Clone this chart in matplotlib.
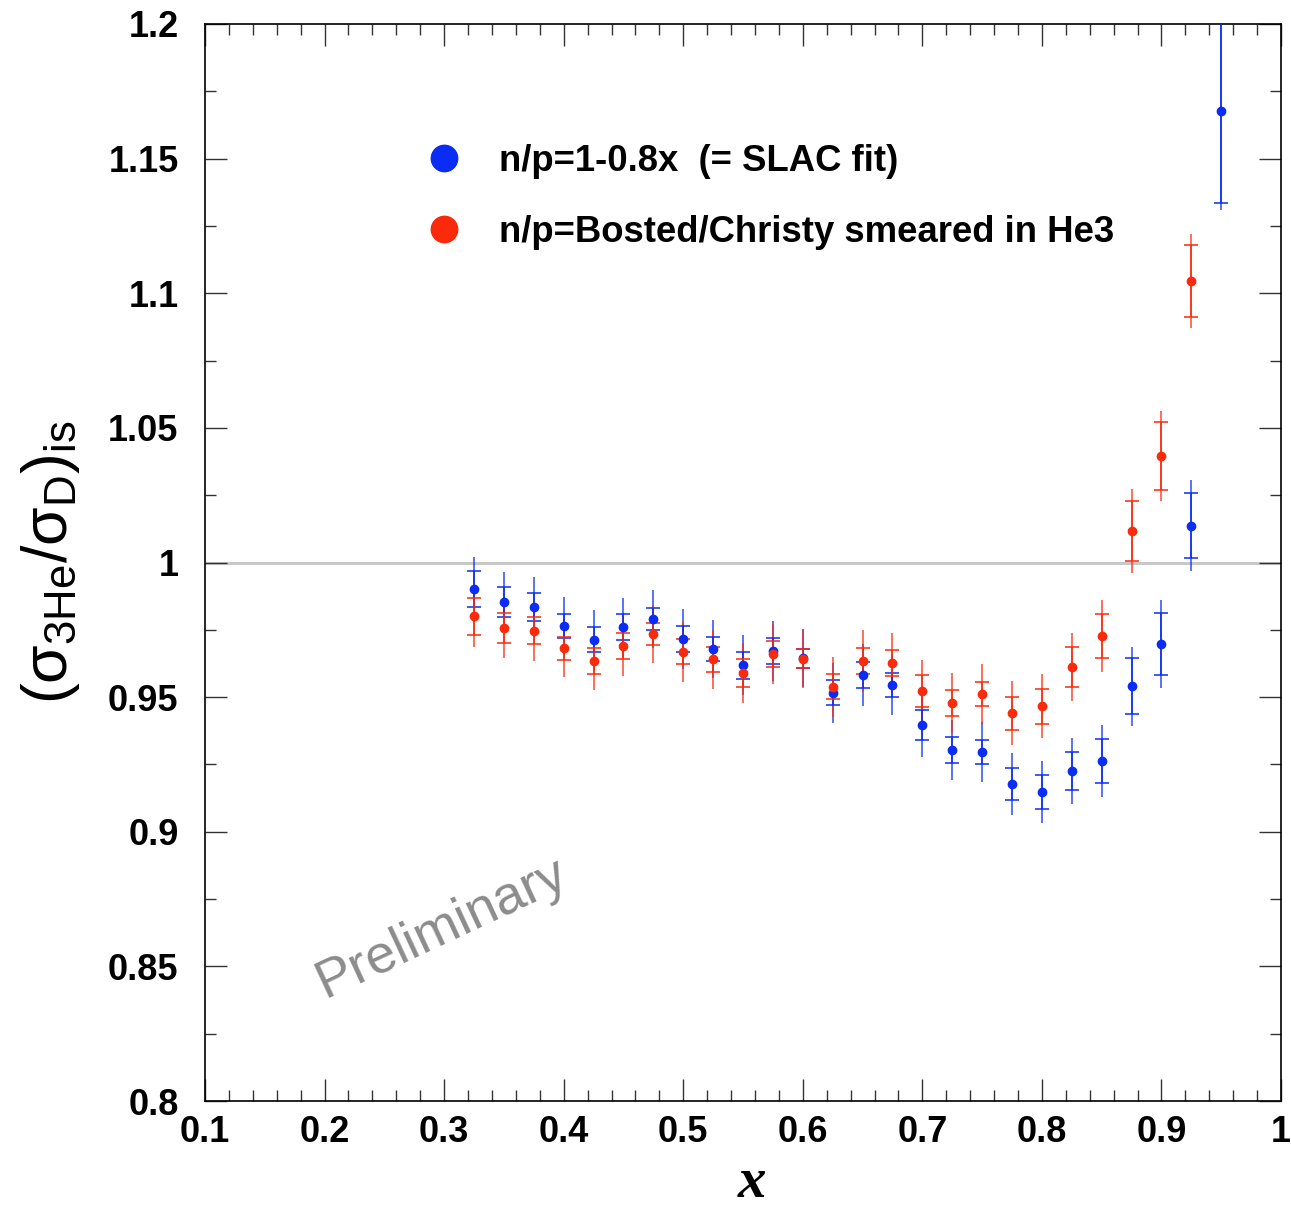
import matplotlib
matplotlib.use("Agg")
import matplotlib.pyplot as plt
from matplotlib.lines import Line2D
from matplotlib.ticker import MultipleLocator

# data
x_blue = [0.325, 0.35, 0.375, 0.4, 0.425, 0.45, 0.475, 0.5, 0.525, 0.55, 0.575, 0.6, 0.625,
          0.65, 0.675, 0.7, 0.725, 0.75, 0.775, 0.8, 0.825, 0.85, 0.875, 0.9, 0.925, 0.95]
y_blue = [0.9901, 0.9852, 0.9836, 0.9763, 0.9713, 0.9759, 0.9789, 0.9715, 0.9678, 0.9619, 0.9671,
          0.9645, 0.9516, 0.9582, 0.9545, 0.9395, 0.9305, 0.9297, 0.9176, 0.9148, 0.9227, 0.9263,
          0.9540, 0.9697, 1.0136, 1.1675]
stat_blue = [0.0067, 0.0056, 0.0052, 0.0045, 0.0046, 0.0048, 0.0041, 0.0048, 0.0045, 0.0050, 0.0047,
             0.0035, 0.0046, 0.0048, 0.0046, 0.0056, 0.0048, 0.0045, 0.0059, 0.0063, 0.0070, 0.0082,
             0.0104, 0.0115, 0.0121, 0.0340]
tot_blue = [0.0121, 0.0111, 0.0111, 0.0108, 0.0111, 0.0111, 0.0108, 0.0111, 0.0108, 0.0111, 0.0111,
            0.0108, 0.0111, 0.0115, 0.0111, 0.0119, 0.0111, 0.0111, 0.0115, 0.0115, 0.0122, 0.0134,
            0.0148, 0.0163, 0.0169, 0.0364]

x_red = x_blue[:-1]
y_red = [0.9801, 0.9757, 0.9746, 0.9681, 0.9635, 0.9691, 0.9734, 0.9669, 0.9640, 0.9591, 0.9659,
         0.9642, 0.9539, 0.9633, 0.9627, 0.9522, 0.9477, 0.9512, 0.9440, 0.9467, 0.9611, 0.9727,
         1.0117, 1.0396, 1.1045]
stat_red = [0.0069, 0.0056, 0.0050, 0.0043, 0.0048, 0.0048, 0.0041, 0.0046, 0.0045, 0.0052, 0.0048,
            0.0035, 0.0046, 0.0048, 0.0048, 0.0059, 0.0048, 0.0045, 0.0061, 0.0065, 0.0074, 0.0082,
            0.0111, 0.0125, 0.0134]
tot_red = [0.0115, 0.0111, 0.0111, 0.0108, 0.0108, 0.0111, 0.0108, 0.0111, 0.0108, 0.0111, 0.0111,
           0.0108, 0.0111, 0.0115, 0.0111, 0.0115, 0.0111, 0.0111, 0.0119, 0.0119, 0.0126, 0.0134,
           0.0156, 0.0166, 0.0175]

label_blue = "n/p=1-0.8x  (= SLAC fit)"
label_red = "n/p=Bosted/Christy smeared in He3"

blue = "#0a2cf5"
red = "#fa2a0a"

plt.rcParams["font.family"] = ["Liberation Sans", "DejaVu Sans"]
plt.rcParams["mathtext.fontset"] = "custom"
plt.rcParams["mathtext.rm"] = "Liberation Sans"
plt.rcParams["mathtext.it"] = "Liberation Sans"

fig = plt.figure(figsize=(12.91, 12.11), dpi=100)
ax = fig.add_axes([0.1588, 0.0908, 0.8335, 0.8894])

# Linie bei 1
ax.axhline(1.0, color="#c8c8c8", lw=2.2, zorder=1)

# Gesamtfehler als Linie, statistischer Fehler mit Querstrichen
for xs, ys, st, tot, c in [(x_blue, y_blue, stat_blue, tot_blue, blue),
                           (x_red, y_red, stat_red, tot_red, red)]:
    ax.errorbar(xs, ys, yerr=tot, fmt="none", ecolor=c, elinewidth=1.1, alpha=0.85, zorder=2)
    ax.errorbar(xs, ys, yerr=st, fmt="o", color=c, ms=6, ecolor=c, elinewidth=1.1,
                capsize=5, capthick=1.1, zorder=3)

ax.set_xlim(0.1, 1.0)
ax.set_ylim(0.8, 1.2)
ax.xaxis.set_minor_locator(MultipleLocator(0.02))
ax.yaxis.set_minor_locator(MultipleLocator(0.025))
ax.set_xticks([0.1, 0.2, 0.3, 0.4, 0.5, 0.6, 0.7, 0.8, 0.9, 1.0])
ax.set_xticklabels(["0.1", "0.2", "0.3", "0.4", "0.5", "0.6", "0.7", "0.8", "0.9", "1"])
ax.set_yticks([0.8, 0.85, 0.9, 0.95, 1.0, 1.05, 1.1, 1.15, 1.2])
ax.set_yticklabels(["0.8", "0.85", "0.9", "0.95", "1", "1.05", "1.1", "1.15", "1.2"])
ax.tick_params(which="both", direction="in", top=True, right=True, width=1, color="#333333")
ax.tick_params(which="major", length=16, labelsize=26, pad=10)
ax.tick_params(axis="y", which="major", pad=19)
ax.tick_params(which="minor", length=8)
for lab in ax.get_xticklabels() + ax.get_yticklabels():
    lab.set_fontweight("bold")
for s in ax.spines.values():
    s.set_linewidth(1.2)

ax.set_xlabel("x", family=["Liberation Serif", "DejaVu Serif"], fontsize=41,
              fontweight="bold", style="italic", va="baseline")
ax.xaxis.set_label_coords(0.508, -0.089)
ax.set_ylabel(r"$(\sigma_{\mathrm{3He}}/\sigma_{\mathrm{D}})_{\mathrm{is}}$", fontsize=45, labelpad=19)

handles = [Line2D([], [], ls="none", marker="o", ms=19, color=blue),
           Line2D([], [], ls="none", marker="o", ms=19, color=red)]
ax.legend(handles, [label_blue, label_red], loc="upper left", bbox_to_anchor=(0.1877, 0.889),
          frameon=False, prop={"size": 26.3, "weight": "bold"}, handletextpad=0.53,
          labelspacing=1.0, borderpad=0, borderaxespad=0)

ax.text(0.22, 0.161, "Preliminary", transform=ax.transAxes, fontsize=39, color="#8c8c8c",
        rotation=25, ha="center", va="center", rotation_mode="anchor")

fig.savefig("out.png", dpi=100)
